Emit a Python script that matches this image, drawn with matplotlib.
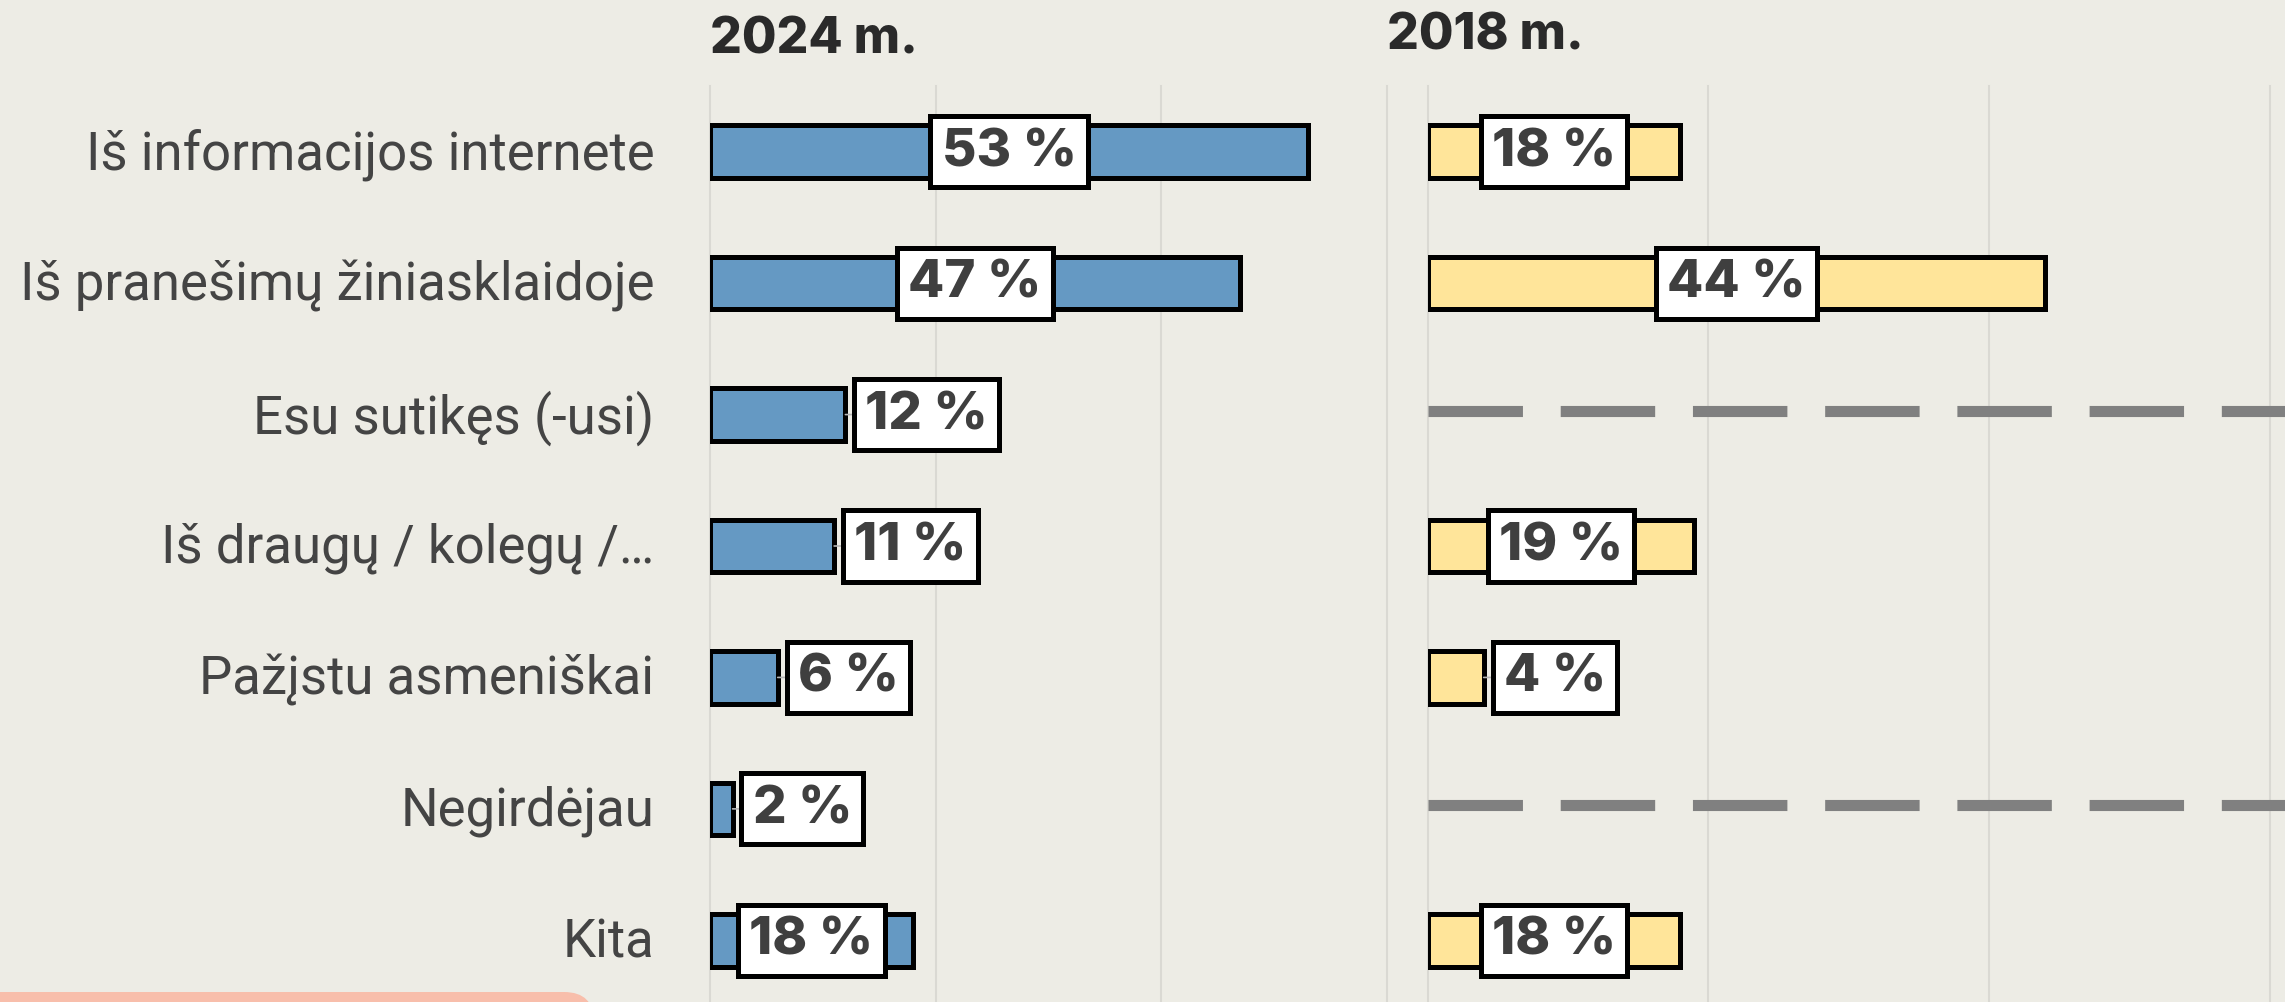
import matplotlib
matplotlib.use('Agg')
import matplotlib.pyplot as plt
from matplotlib.patches import FancyBboxPatch
from matplotlib.transforms import IdentityTransform, ScaledTranslation
import numpy as np

# ---------------- data ----------------
categories = ["Iš informacijos internete", "Iš pranešimų žiniasklaidoje",
              "Esu sutikęs (-usi)", "Iš draugų / kolegų /…",
              "Pažįstu asmeniškai", "Negirdėjau", "Kita"]
values_2024 = [53, 47, 12, 11, 6, 2, 18]
values_2018 = [18, 44, None, 19, 4, None, 18]
panel_titles = ["2024 m.", "2018 m."]
x_ticks = [0, 20, 40, 60]

# ---------------- style ----------------
BG = '#EDECE5'
BLUE = '#6599C3'
YELLOW = '#FFE59A'
GRID = '#DAD9D3'
W, H = 2285, 1003

fig = plt.figure(figsize=(W / 100, H / 100), dpi=100, facecolor=BG)


def px_axes(x0, x1, y_top, y_bot):
    return [x0 / W, 1 - y_bot / H, (x1 - x0) / W, (y_bot - y_top) / H]


ax1 = fig.add_axes(px_axes(710, 1387, 87, 1007))
ax2 = fig.add_axes(px_axes(1427.5, 2270, 87, 1007))

NUM_FONT = dict(family=['Inter', 'DejaVu Sans'], weight='heavy', size=38, color='#3F3F3F')
BOX = dict(boxstyle='square,pad=0.21', fc='white', ec='black', lw=3.6)


def draw_panel(ax, vals, color):
    ax.set_facecolor('none')
    ax.set_xlim(0, 60)
    ax.set_ylim(len(categories) - 0.5, -0.5)
    for s in ax.spines.values():
        s.set_visible(False)
    ax.set_xticks([])
    for t in x_ticks:
        ax.axvline(t, color=GRID, lw=1.5, zorder=0, clip_on=False)
    for i, v in enumerate(vals):
        if v is None:
            ln, = ax.plot([0, 66], [i - 0.03, i - 0.03], color='#808080', lw=8,
                          solid_capstyle='butt', dash_capstyle='butt',
                          clip_on=False, zorder=1)
            ln.set_dashes((8.5, 3.4))
            continue
        ax.barh(i, v, height=0.4, color=color, edgecolor='black',
                linewidth=3.6, zorder=2)
        label = f"{v} %"
        if v >= 15:
            ax.text(v / 2, i, label, ha='center', va='center',
                    bbox=BOX, zorder=4, **NUM_FONT)
        else:
            ax.annotate(label, xy=(v, i), xytext=(20, 0),
                        textcoords='offset pixels', ha='left', va='center',
                        bbox=BOX, zorder=4,
                        arrowprops=dict(arrowstyle='-', color='#B5B5B5', lw=1.2,
                                        shrinkA=0, shrinkB=0),
                        **NUM_FONT)


draw_panel(ax1, values_2024, BLUE)
draw_panel(ax2, values_2018, YELLOW)

ax1.set_yticks(np.arange(len(categories)))
ax1.set_yticklabels(categories, family=['Roboto', 'DejaVu Sans'], size=38, color='#444444')
ax1.tick_params(axis='y', length=0, pad=40)
shift = ScaledTranslation(0, 4 / 100, fig.dpi_scale_trans)
for lab in ax1.get_yticklabels():
    lab.set_transform(lab.get_transform() + shift)
ax2.set_yticks([])

TITLE_FONT = dict(family=['Inter', 'DejaVu Sans'], weight='heavy', size=36, color='#2A2A2A')
fig.text(710 / W, 1 - 54 / H, panel_titles[0], ha='left', va='baseline', **TITLE_FONT)
fig.text(1387 / W, 1 - 50 / H, panel_titles[1], ha='left', va='baseline', **TITLE_FONT)

# pink rounded shape peeking in at the bottom left
pink = FancyBboxPatch((-40, -60), 634, 70, boxstyle='round,pad=0,rounding_size=30',
                      transform=IdentityTransform(), fc='#F8BEAB', ec='none', zorder=5)
fig.patches.append(pink)

fig.savefig('out.png', dpi=100, facecolor=BG)
